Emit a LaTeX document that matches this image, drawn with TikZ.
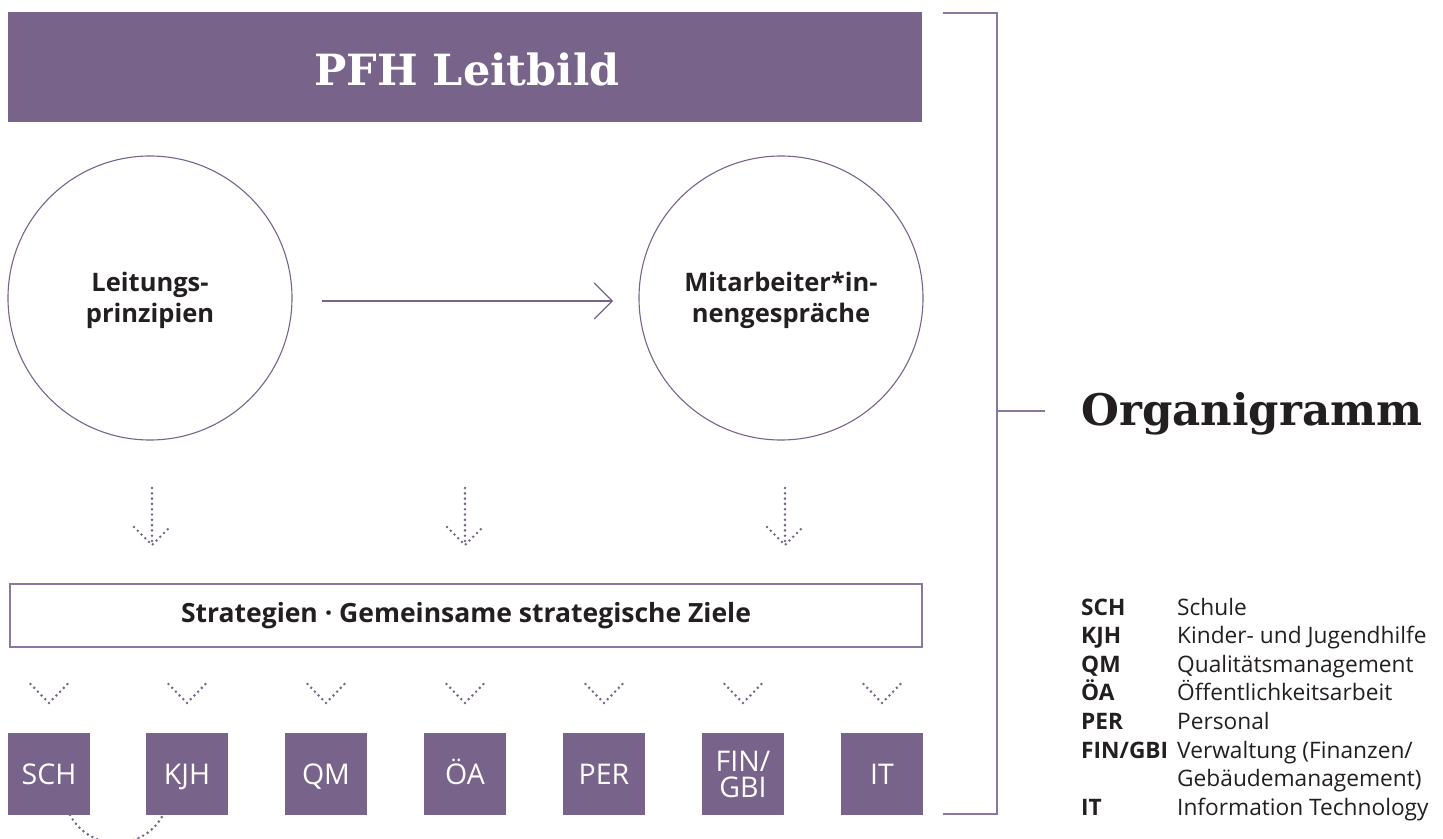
\documentclass[tikz,border=0pt]{standalone}
\usepackage{fontspec}
\setmainfont{Open Sans}
\newfontfamily\slabfont{DejaVu Serif}
\usetikzlibrary{arrows.meta}
\definecolor{pfh}{HTML}{78638A}
\definecolor{pfhline}{HTML}{8A76A0}
\definecolor{ink}{HTML}{231F20}
\tikzset{
  titlebox/.style={fill=pfh, draw=none, minimum width=914pt, minimum height=110pt, inner sep=0pt},
  bubble/.style={circle, draw=pfh, line width=1.1pt, minimum size=284pt, inner sep=0pt},
  bubbletext/.style={align=center, inner sep=0pt, font=\fontsize{25.5}{31}\selectfont\bfseries, text=ink},
  stratbox/.style={draw=pfhline, line width=1.4pt, minimum width=912pt, minimum height=63pt, inner sep=0pt,
    font=\fontsize{26.5}{30}\selectfont\bfseries, text=ink},
  unitbox/.style={fill=pfh, minimum width=82pt, minimum height=82pt, inner sep=0pt},
  unittext/.style={text=white, inner sep=0pt, align=center, font=\fontsize{28.5}{26}\selectfont},
  dotline/.style={draw=pfh, line width=2.9pt, line cap=round, dash pattern=on 0pt off 5.3pt},
  thinline/.style={draw=pfh, line width=1.1pt},
  bracketline/.style={draw=pfhline, line width=1.3pt},
  abbr/.style={anchor=base west, inner sep=0pt, font=\fontsize{22.7}{26}\selectfont\bfseries, text=ink},
  desc/.style={anchor=base west, inner sep=0pt, font=\fontsize{22.7}{26}\selectfont, text=ink},
}
\begin{document}
\begin{tikzpicture}[x=1pt,y=-1pt]
\useasboundingbox (0,0) rectangle (1443,838);
% title
\node[titlebox] (title) at (465,66.5) {};
\node[text=white, inner sep=0pt, anchor=base, font=\slabfont\fontsize{43}{50}\selectfont\bfseries] (titletext) at (467,85) {PFH Leitbild};
% circles
\node[bubble] (lead) at (150,298) {};
\node[bubble] (staff) at (781,298) {};
\node[bubbletext] (leadtext) at (150,300) {Leitungs-\\prinzipien};
\node[bubbletext] (stafftext) at (781,300) {Mitarbeiter*in-\\nengespräche};
\coordinate (hstart) at (322,301);
\coordinate (hend) at (613,301);
\draw[thinline, -{Straight Barb[length=18pt,width=36pt,line width=1.1pt]}] (hstart) -- (hend);
% dotted down arrows
\foreach \n/\x in {a/152,b/465,c/785}{
  \coordinate (d\n1) at (\x,488);
  \coordinate (d\n2) at (\x,545);
  \draw[dotline] (d\n1) -- (d\n2);
  \draw[dotline] (\x-18,527) -- (d\n2) -- (\x+18,527);
}
% strategy box
\node[stratbox] (strat) at (466,615.5) {Strategien · Gemeinsame strategische Ziele};
% units
\foreach \n/\x/\t in {sch/49/SCH, kjh/187/KJH, qm/326/QM, oa/465/ÖA, per/604/PER, it/882/IT}{
  \node[unitbox] (\n) at (\x,774) {};
  \node[unittext, anchor=base] (\n text) at (\x,784) {\t};
  \draw[dotline] (\x-18.5,684) -- (\x,703) -- (\x+18.5,684);
}
\node[unitbox] (fin) at (743,774) {};
\node[unittext] (fin text) at (743,774) {FIN/\\GBI};
\draw[dotline] (724.5,684) -- (743,703) -- (761.5,684);
% bottom dotted link
\coordinate (arcA) at (70,815);
\coordinate (arcB) at (163,815);
\draw[dotline] (arcA) .. controls (90,852) and (143,852) .. (arcB);
% bracket
\coordinate (bt) at (943,13);
\coordinate (bb) at (943,814);
\coordinate (bmid) at (997,411);
\draw[bracketline] (bt) -- (997,13) -- (997,814) -- (bb);
\coordinate (tickend) at (1045,411);
\draw[bracketline] (bmid) -- (tickend);
\node[anchor=base west, inner sep=0pt, text=ink, font=\slabfont\fontsize{43.5}{50}\selectfont\bfseries] (orga) at (1081,425) {Organigramm};
% legend
\foreach \y/\a/\d in {615/SCH/Schule, 643.6/KJH/Kinder- und Jugendhilfe, 672.2/QM/Qualitätsmanagement, 700.8/ÖA/Öffentlichkeitsarbeit, 729.4/PER/Personal, 758/FIN\slash GBI/Verwaltung (Finanzen\slash, 786.6//Gebäudemanagement), 815.2/IT/Information Technology}{
  \node[abbr] at (1081,\y) {\a};
  \node[desc] at (1177,\y) {\d};
}
\end{tikzpicture}
\end{document}
